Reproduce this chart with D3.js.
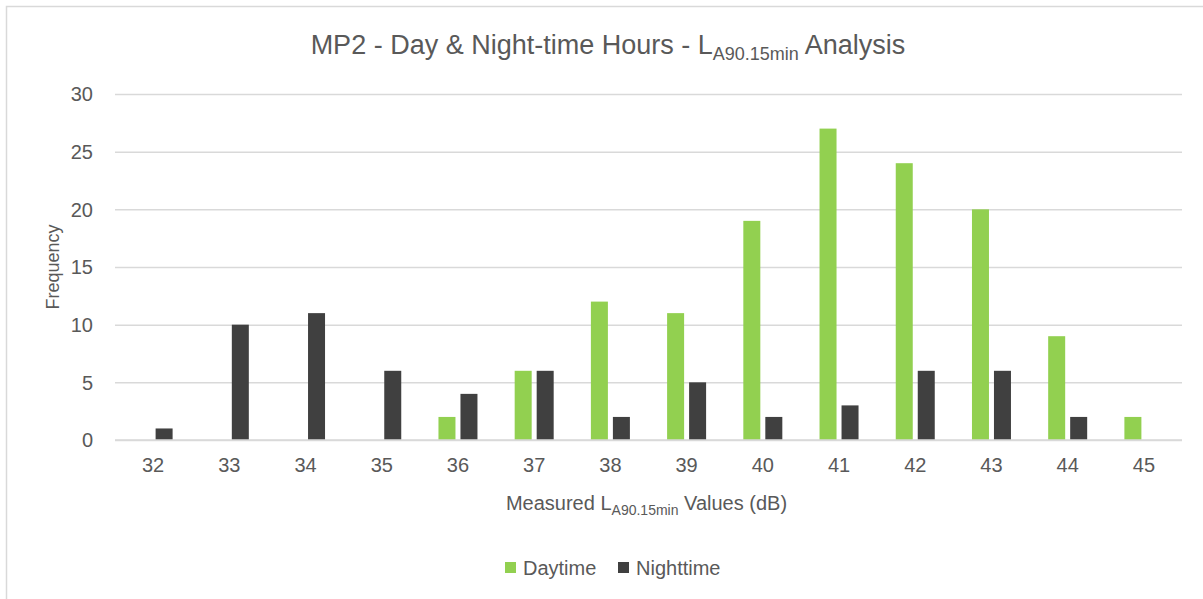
<!DOCTYPE html>
<html><head><meta charset="utf-8">
<script src="https://cdn.jsdelivr.net/npm/d3@7"></script>
<style>body{margin:0;background:#fff}svg{display:block}text{font-family:"Liberation Sans",Arial,sans-serif;fill:#595959}</style>
</head><body>
<svg id="c" width="1203" height="599"></svg>
<script>
const categories = ["32","33","34","35","36","37","38","39","40","41","42","43","44","45"];
const seriesNames = ["Daytime","Nighttime"];
const daytime   = [0,0,0,0,2,6,12,11,19,27,24,20,9,2];
const nighttime = [1,10,11,6,4,6,2,5,2,3,6,6,2,0];
const yTicks = [0,5,10,15,20,25,30];
const colors = ["#92D050","#404040"];

(function(){
const svg = d3.select("#c");
svg.append("rect").attr("x",6.5).attr("y",6.5).attr("width",1220).attr("height",620)
  .attr("fill","#fff").attr("stroke","#d9d9d9").attr("stroke-width",1.5);

const pL=115, pR=1182, pT=94, pB=440;
const x = d3.scaleBand().domain(categories).range([pL,pR]).padding(0);
const y = d3.scaleLinear().domain([0,30]).range([pB,pT]);
const xs = d3.scaleBand().domain(seriesNames).paddingInner(5/22).paddingOuter(0);

const yAxis = d3.axisLeft(y).tickValues(yTicks).tickSize(-(pR-pL)).tickPadding(22);
const gy = svg.append("g").attr("transform",`translate(${pL},0)`).call(yAxis);
gy.select(".domain").remove();
gy.selectAll(".tick line").attr("stroke","#d9d9d9").attr("stroke-width",1.5);
gy.selectAll(".tick text").attr("font-size",20).attr("fill","#595959").attr("dy","0.34em");

const xAxis = d3.axisBottom(x).tickSize(0).tickPadding(18);
const gx = svg.append("g").attr("transform",`translate(0,${pB})`).call(xAxis);
gx.select(".domain").remove();
gx.selectAll(".tick text").attr("font-size",20).attr("fill","#595959");

const data = categories.map((c,i)=>({c, vals:[daytime[i],nighttime[i]]}));
const groups = svg.append("g").selectAll("g").data(data).join("g");
groups.each(function(d){
  const cx = x(d.c)+x.bandwidth()/2;
  xs.range([cx-19.5,cx+19.5]);
  d3.select(this).selectAll("rect").data(d.vals.map((v,k)=>({v,k,s:seriesNames[k],x0:xs(seriesNames[k]),w:xs.bandwidth()})).filter(e=>e.v>0))
    .join("rect")
    .attr("x",e=>e.x0).attr("width",e=>e.w)
    .attr("y",e=>y(e.v)).attr("height",e=>y(0)-y(e.v))
    .attr("fill",e=>colors[e.k]);
});
svg.append("line").attr("x1",pL).attr("x2",pR).attr("y1",y(0)).attr("y2",y(0))
  .attr("stroke","#d9d9d9").attr("stroke-width",1.5);

const t = svg.append("text").attr("x",608).attr("y",54).attr("text-anchor","middle").attr("font-size",27);
t.append("tspan").text("MP2 - Day & Night-time Hours - L");
t.append("tspan").attr("font-size",18).attr("dy",6).text("A90.15min");
t.append("tspan").attr("dy",-6).text(" Analysis");

const xt = svg.append("text").attr("x",(pL+pR)/2 - 2).attr("y",510).attr("text-anchor","middle").attr("font-size",20);
xt.append("tspan").text("Measured L");
xt.append("tspan").attr("font-size",14).attr("dy",5).text("A90.15min");
xt.append("tspan").attr("dy",-5).text(" Values (dB)");

svg.append("text").attr("transform","translate(59,267) rotate(-90)").attr("text-anchor","middle").attr("font-size",18).text("Frequency");

const legX = [505,618];
const lg = svg.append("g").selectAll("g").data(seriesNames).join("g")
  .attr("transform",(d,i)=>`translate(${legX[i]},562)`);
lg.append("rect").attr("width",11).attr("height",11).attr("fill",(d,i)=>colors[i]);
lg.append("text").attr("x",18).attr("y",13).attr("font-size",20).text(d=>d);
})();
</script>
</body></html>
